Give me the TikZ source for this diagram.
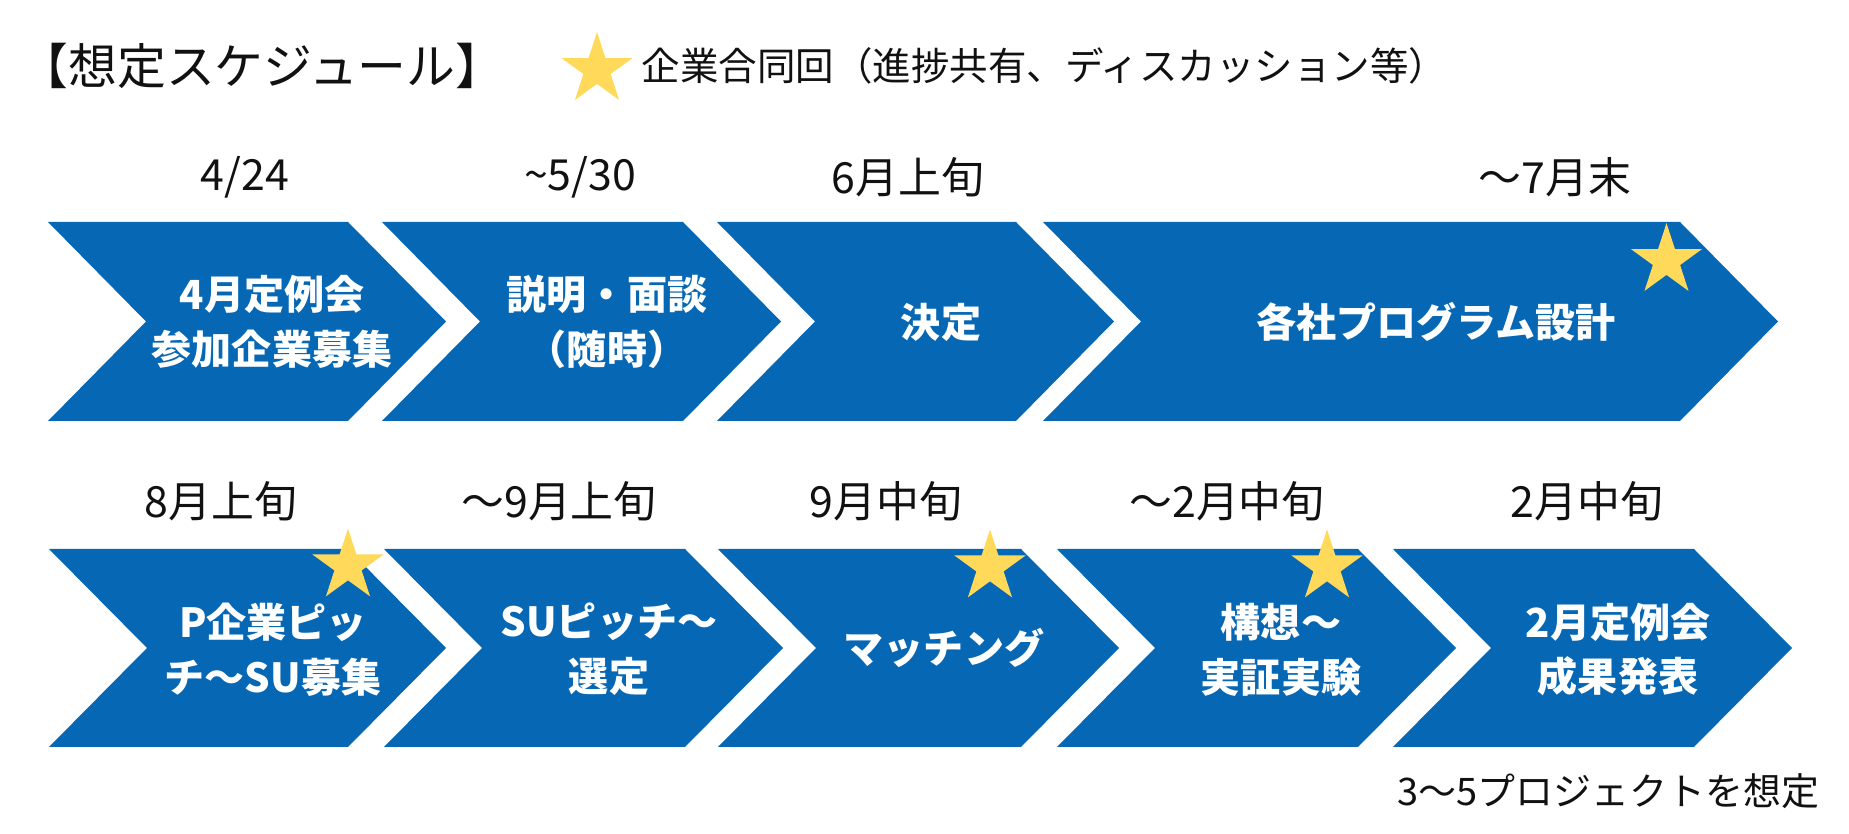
\documentclass[tikz,border=0pt]{standalone}
\usepackage{fontspec}
\setmainfont{Noto Sans CJK JP}
\usepackage{tikz}
\usetikzlibrary{shapes.geometric}
\definecolor{chevblue}{RGB}{6, 103, 180}
\definecolor{staryellow}{RGB}{255, 217, 90}
\definecolor{inkblack}{RGB}{17, 17, 17}

\begin{document}
\begin{tikzpicture}[
  chev/.style={fill=chevblue},
  ystar/.style={star, star points=5, star point ratio=2.618, fill=staryellow, inner sep=0pt, minimum size=0.75cm},
  ctext/.style={text=white, align=center, font=\fontsize{11.4pt}{15.6pt}\selectfont\bfseries},
  date/.style={text=inkblack, font=\fontsize{12.2pt}{14pt}\selectfont},
  head/.style={text=inkblack, font=\fontsize{13.9pt}{16pt}\selectfont}
]
  \useasboundingbox (0,0) rectangle (18.49,8.34);

  % --- Header ---
  \node[head] (title) at (2.62, 7.68) {【想定スケジュール】};
  \node[ystar] (legstar) at (5.97, 7.644) {};
  \node[text=inkblack, font=\fontsize{10.95pt}{13pt}\selectfont, anchor=west, inner sep=0pt] (legend) at (6.41, 7.68) {企業合同回（進捗共有、ディスカッション等）};

  % --- Upper row ---
  \fill[chev] (0.48,6.12) -- (3.48,6.12) -- (4.46,5.125) -- (3.48,4.13) -- (0.48,4.13) -- (1.46,5.125) -- cycle;
  \fill[chev] (3.82,6.12) -- (6.83,6.12) -- (7.81,5.125) -- (6.83,4.13) -- (3.82,4.13) -- (4.80,5.125) -- cycle;
  \fill[chev] (7.17,6.12) -- (10.16,6.12) -- (11.14,5.125) -- (10.16,4.13) -- (7.17,4.13) -- (8.15,5.125) -- cycle;
  \fill[chev] (10.43,6.12) -- (16.80,6.12) -- (17.78,5.125) -- (16.80,4.13) -- (10.43,4.13) -- (11.41,5.125) -- cycle;
  \node[ctext] (s1) at (2.72, 5.12) {4月定例会\\参加企業募集};
  \node[ctext] (s2) at (6.07, 5.12) {説明・面談\\（随時）};
  \node[ctext] (s3) at (9.41, 5.12) {決定};
  \node[ctext] (s4) at (14.36, 5.12) {各社プログラム設計};
  \node[ystar] (st4) at (16.665, 5.734) {};
  \node[date] (d1) at (2.45, 6.57) {4/24};
  \node[date] (d2) at (5.80, 6.57) {\textasciitilde 5/30};
  \node[date] (d3) at (9.08, 6.57) {6月上旬};
  \node[date] (d4) at (15.55, 6.57) {～7月末};

  % --- Lower row ---
  \fill[chev] (0.49,2.85) -- (3.48,2.85) -- (4.46,1.86) -- (3.48,0.87) -- (0.49,0.87) -- (1.47,1.86) -- cycle;
  \fill[chev] (3.84,2.85) -- (6.85,2.85) -- (7.83,1.86) -- (6.85,0.87) -- (3.84,0.87) -- (4.82,1.86) -- cycle;
  \fill[chev] (7.18,2.85) -- (10.21,2.85) -- (11.19,1.86) -- (10.21,0.87) -- (7.18,0.87) -- (8.16,1.86) -- cycle;
  \fill[chev] (10.57,2.85) -- (13.58,2.85) -- (14.56,1.86) -- (13.58,0.87) -- (10.57,0.87) -- (11.55,1.86) -- cycle;
  \fill[chev] (13.93,2.85) -- (16.94,2.85) -- (17.92,1.86) -- (16.94,0.87) -- (13.93,0.87) -- (14.91,1.86) -- cycle;
  \node[ctext] (s5) at (2.73, 1.845) {P企業ピッ\\チ～SU募集};
  \node[ctext] (s6) at (6.09, 1.845) {SUピッチ～\\選定};
  \node[ctext] (s7) at (9.44, 1.86) {マッチング};
  \node[ctext] (s8) at (12.81, 1.845) {構想～\\実証実験};
  \node[ctext] (s9) at (16.18, 1.845) {2月定例会\\成果発表};
  \node[ystar] (st5) at (3.48, 2.68) {};
  \node[ystar] (st7) at (9.90, 2.67) {};
  \node[ystar] (st8) at (13.27, 2.67) {};
  \node[date] (d5) at (2.21, 3.33) {8月上旬};
  \node[date] (d6) at (5.59, 3.33) {～9月上旬};
  \node[date] (d7) at (8.86, 3.33) {9月中旬};
  \node[date] (d8) at (12.27, 3.33) {～2月中旬};
  \node[date] (d9) at (15.87, 3.33) {2月中旬};
  \node[text=inkblack, font=\fontsize{10.8pt}{12pt}\selectfont, anchor=east, inner sep=0pt] (note) at (18.2, 0.43) {3～5プロジェクトを想定};
\end{tikzpicture}
\end{document}
